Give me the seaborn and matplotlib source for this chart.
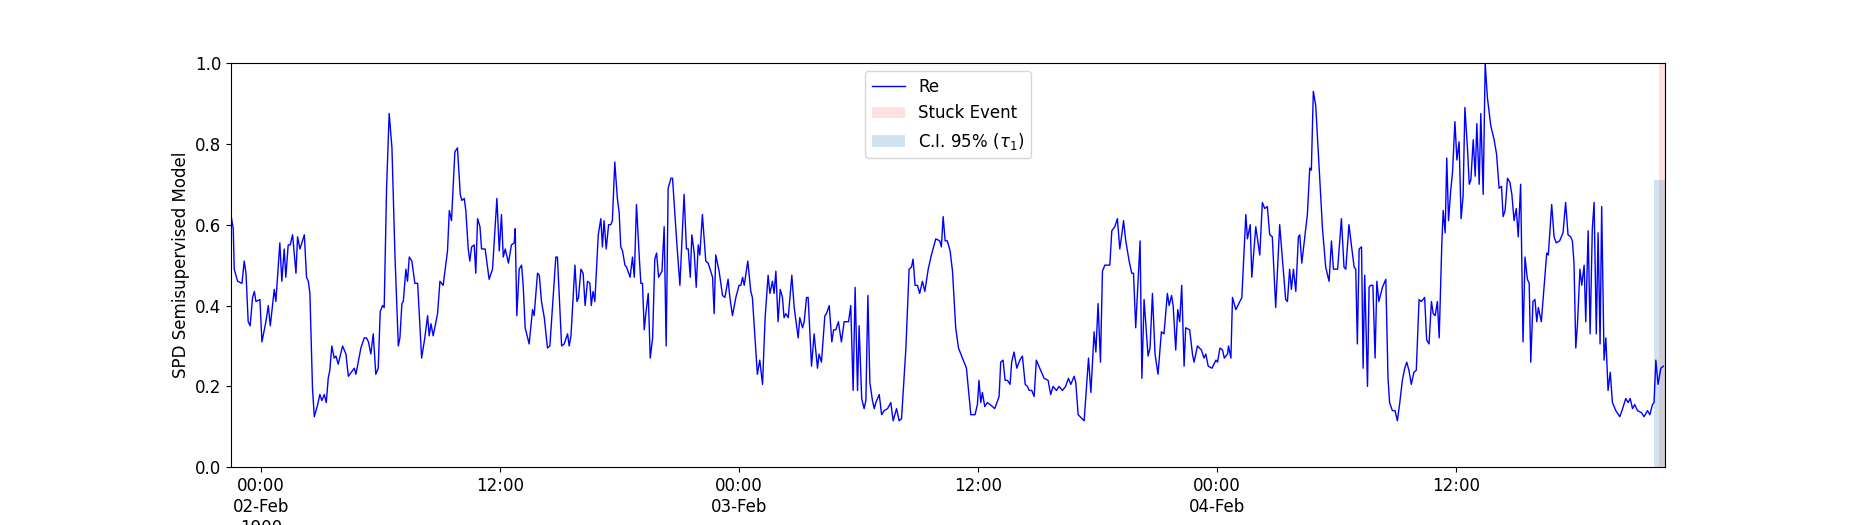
import matplotlib
matplotlib.use("Agg")
import matplotlib.pyplot as plt
import matplotlib.dates as mdates
import seaborn as sns
import pandas as pd

# hours elapsed since the start of the series (1900-02-01 22:30)
hours = [
 0,0.1,0.15,0.32,0.54,0.65,0.74,0.85,0.95,1.07,1.16,1.24,1.44,1.54,1.74,1.86,1.96,2.16,2.24,2.44,
 2.54,2.66,2.74,2.86,2.96,3.08,3.25,3.33,3.45,3.67,3.78,3.87,3.95,4.08,4.17,4.34,4.45,4.55,4.67,4.77,
 4.87,4.95,5.05,5.17,5.26,5.37,5.59,5.76,5.88,6.18,6.26,6.51,6.68,6.79,6.89,7.01,7.13,7.26,7.38,7.48,
 7.6,7.68,7.8,7.93,8.07,8.22,8.39,8.47,8.57,8.64,8.77,8.85,8.94,9.07,9.22,9.36,9.56,9.72,9.86,9.94,
 10.03,10.14,10.36,10.48,10.64,10.86,10.95,11.06,11.23,11.36,11.5,11.58,11.7,11.78,11.9,11.98,12.07,12.2,12.28,12.37,
 12.49,12.57,12.75,12.95,13.12,13.34,13.46,13.57,13.66,13.76,13.92,14.07,14.21,14.26,14.34,14.46,14.58,14.66,14.76,14.96,
 15.13,15.21,15.38,15.47,15.58,15.72,15.88,16.0,16.3,16.38,16.59,16.72,16.89,16.97,17.06,17.26,17.36,17.44,17.56,17.67,
 17.77,17.89,18.01,18.08,18.17,18.26,18.43,18.56,18.64,18.72,18.83,18.95,19.06,19.14,19.26,19.39,19.48,19.56,19.65,19.77,
 19.85,20.03,20.15,20.24,20.35,20.49,20.57,20.65,20.74,20.82,20.94,21.04,21.16,21.27,21.36,21.46,21.63,21.74,21.84,21.94,
 22.08,22.16,22.36,22.53,22.74,22.86,22.95,23.05,23.13,23.25,23.35,23.45,23.53,23.66,23.83,23.95,24.17,24.25,24.33,24.5,
 24.67,24.79,24.95,25.04,25.17,25.34,25.5,25.59,25.68,25.76,25.94,26.09,26.17,26.42,26.54,26.68,26.81,26.96,27.05,27.18,
 27.26,27.35,27.46,27.57,27.68,27.76,27.85,27.97,28.15,28.27,28.47,28.55,28.69,28.77,28.89,28.97,29.14,29.27,29.44,29.52,
 29.64,29.81,29.89,30.03,30.16,30.25,30.36,30.49,30.64,30.78,31.0,31.11,31.23,31.33,31.45,31.53,31.66,31.78,31.87,31.97,
 32.07,32.2,32.29,32.37,32.54,32.66,32.79,32.96,33.12,33.24,33.41,33.54,33.66,33.88,34.04,34.16,34.24,34.34,34.46,34.57,
 34.71,34.83,35.0,35.16,35.38,35.58,35.66,35.75,35.85,35.96,36.1,36.22,36.38,36.52,36.72,36.92,37.14,37.35,37.47,37.55,
 37.64,37.72,37.84,37.97,38.23,38.34,38.56,38.64,38.76,38.86,38.98,39.11,39.19,39.31,39.45,39.6,39.73,39.87,39.98,40.07,
 40.2,40.32,40.43,40.6,40.82,41.02,41.15,41.27,41.44,41.57,41.74,41.9,42.04,42.16,42.33,42.41,42.53,42.83,43.05,43.17,
 43.33,43.42,43.53,43.65,43.75,43.87,44.0,44.12,44.22,44.37,44.5,44.62,44.72,44.81,44.92,45.09,45.22,45.31,45.42,45.64,
 45.73,45.84,46.04,46.14,46.26,46.39,46.54,46.71,46.84,47.01,47.1,47.22,47.3,47.43,47.53,47.63,47.73,47.85,47.93,48.13,
 48.27,48.35,48.52,48.72,48.85,48.94,49.06,49.25,49.45,49.53,49.65,49.78,49.87,50.03,50.08,50.2,50.28,50.45,50.75,50.95,
 51.03,51.17,51.25,51.45,51.65,51.78,51.9,52.03,52.15,52.28,52.45,52.65,52.79,52.95,53.04,53.15,53.24,53.34,53.46,53.59,
 53.66,53.76,54.04,54.16,54.24,54.34,54.46,54.63,54.8,54.96,55.13,55.25,55.35,55.46,55.56,55.75,55.88,55.97,56.13,56.25,
 56.39,56.47,56.55,56.64,56.76,56.84,56.92,57.06,57.14,57.22,57.33,57.44,57.53,57.63,57.81,57.98,58.09,58.17,58.31,58.44,
 58.56,58.67,58.81,58.93,59.03,59.14,59.26,59.39,59.51,59.65,59.76,59.93,60.03,60.15,60.27,60.36,60.46,60.57,60.66,60.79,
 60.86,60.96,61.04,61.13,61.24,61.33,61.45,61.55,61.66,61.76,61.86,61.95,62.08,62.17,62.25,62.37,62.47,62.55,62.67,62.75,
 62.87,62.97,63.08,63.25,63.42,63.54,63.67,63.79,63.87,63.97,64.09,64.21,64.31,64.42,64.53,64.63,64.75,64.87,64.97,65.09,
 65.18,65.26,65.37,65.47,65.56,65.64,65.79,65.93,66.06,66.14,66.31,66.43,66.54,66.71,66.88,67.01,67.13,67.26,67.35,67.43,
 67.52,67.6,67.73,67.82,67.94,68.02,68.14,68.24,68.35,68.44,68.55,68.64,68.74,68.82,68.94,69.03,69.14,69.25,69.36,69.53,
 69.73,69.87,70.03,70.15,70.25,70.37,70.48,70.62,70.82,70.95,71.12,71.24,71.37,71.45,71.54,71.65,71.79,71.92,
]
re_values = [
 0.62,0.59,0.49,0.46,0.455,0.51,0.48,0.36,0.35,0.42,0.435,0.41,0.415,0.31,0.36,0.40,0.35,0.44,0.41,0.555,
 0.46,0.54,0.47,0.55,0.55,0.575,0.48,0.57,0.54,0.575,0.47,0.46,0.43,0.195,0.125,0.155,0.18,0.165,0.18,0.16,
 0.22,0.24,0.30,0.27,0.275,0.255,0.30,0.28,0.225,0.245,0.23,0.295,0.32,0.32,0.31,0.28,0.33,0.23,0.245,0.385,
 0.40,0.395,0.69,0.875,0.79,0.525,0.30,0.32,0.405,0.41,0.49,0.46,0.52,0.51,0.455,0.455,0.27,0.32,0.375,0.325,
 0.355,0.325,0.38,0.46,0.45,0.535,0.635,0.61,0.78,0.79,0.675,0.66,0.665,0.635,0.54,0.51,0.545,0.55,0.48,0.615,
 0.595,0.54,0.54,0.465,0.49,0.665,0.535,0.625,0.52,0.54,0.505,0.55,0.555,0.59,0.375,0.49,0.50,0.45,0.345,0.305,
 0.39,0.375,0.48,0.475,0.41,0.37,0.295,0.30,0.52,0.52,0.30,0.305,0.33,0.30,0.325,0.50,0.41,0.42,0.49,0.48,
 0.40,0.46,0.455,0.40,0.435,0.41,0.575,0.615,0.545,0.61,0.54,0.60,0.60,0.61,0.755,0.665,0.63,0.545,0.535,0.50,
 0.495,0.47,0.52,0.47,0.65,0.52,0.455,0.455,0.34,0.38,0.43,0.27,0.32,0.515,0.53,0.47,0.485,0.595,0.30,0.69,
 0.715,0.715,0.565,0.45,0.675,0.54,0.54,0.47,0.575,0.53,0.445,0.55,0.525,0.625,0.51,0.505,0.47,0.38,0.525,0.485,
 0.425,0.42,0.465,0.42,0.375,0.42,0.45,0.45,0.47,0.45,0.51,0.435,0.42,0.23,0.265,0.205,0.37,0.475,0.43,0.46,
 0.43,0.485,0.36,0.44,0.42,0.37,0.38,0.37,0.475,0.395,0.32,0.37,0.345,0.36,0.42,0.42,0.25,0.33,0.245,0.28,
 0.26,0.375,0.38,0.40,0.31,0.34,0.34,0.36,0.31,0.36,0.36,0.40,0.19,0.445,0.19,0.35,0.17,0.145,0.165,0.425,
 0.21,0.165,0.145,0.16,0.18,0.13,0.14,0.145,0.16,0.115,0.145,0.115,0.12,0.295,0.49,0.495,0.515,0.45,0.45,0.43,
 0.46,0.435,0.49,0.525,0.565,0.56,0.545,0.62,0.56,0.56,0.535,0.485,0.345,0.295,0.27,0.245,0.13,0.13,0.155,0.215,
 0.16,0.185,0.15,0.16,0.15,0.145,0.175,0.26,0.265,0.215,0.215,0.205,0.26,0.285,0.245,0.265,0.275,0.205,0.20,0.19,
 0.19,0.175,0.265,0.245,0.22,0.215,0.18,0.20,0.19,0.20,0.19,0.20,0.22,0.205,0.225,0.21,0.13,0.115,0.27,0.185,
 0.335,0.285,0.405,0.26,0.485,0.50,0.50,0.50,0.585,0.595,0.615,0.54,0.575,0.61,0.56,0.51,0.48,0.48,0.345,0.56,
 0.22,0.415,0.275,0.295,0.43,0.28,0.23,0.335,0.33,0.43,0.40,0.425,0.40,0.29,0.39,0.36,0.45,0.25,0.345,0.34,
 0.28,0.26,0.30,0.29,0.27,0.28,0.25,0.245,0.265,0.26,0.295,0.29,0.27,0.28,0.30,0.27,0.42,0.39,0.42,0.625,
 0.565,0.60,0.47,0.595,0.525,0.655,0.64,0.645,0.575,0.57,0.395,0.60,0.515,0.415,0.41,0.49,0.44,0.49,0.435,0.57,
 0.575,0.505,0.625,0.74,0.735,0.93,0.895,0.74,0.59,0.495,0.46,0.56,0.49,0.49,0.49,0.615,0.495,0.49,0.60,0.55,
 0.495,0.49,0.305,0.54,0.545,0.245,0.475,0.20,0.445,0.45,0.45,0.27,0.46,0.41,0.445,0.465,0.22,0.16,0.14,0.14,
 0.115,0.155,0.215,0.245,0.26,0.24,0.205,0.235,0.24,0.415,0.41,0.42,0.315,0.305,0.41,0.38,0.375,0.41,0.32,0.55,
 0.635,0.58,0.765,0.61,0.685,0.73,0.855,0.76,0.805,0.615,0.67,0.89,0.79,0.70,0.71,0.81,0.72,0.85,0.70,0.875,
 0.675,1.0,0.915,0.845,0.81,0.775,0.69,0.695,0.62,0.635,0.715,0.705,0.675,0.61,0.64,0.57,0.70,0.31,0.52,0.465,
 0.455,0.26,0.41,0.415,0.36,0.395,0.36,0.45,0.53,0.525,0.65,0.57,0.555,0.56,0.58,0.655,0.575,0.57,0.56,0.505,
 0.295,0.35,0.49,0.45,0.50,0.36,0.585,0.33,0.59,0.655,0.33,0.58,0.305,0.645,0.265,0.32,0.19,0.235,0.16,0.14,
 0.125,0.145,0.17,0.16,0.17,0.145,0.155,0.14,0.135,0.125,0.14,0.13,0.155,0.16,0.265,0.205,0.245,0.25,
]
t_start = "1900-02-01 22:30"
t_end = "1900-02-04 22:30"
ci_start_hour = 71.45
stuck_start_hour = 71.7
ci_upper = 0.71

start = pd.Timestamp(t_start)
df = pd.DataFrame({"time": start + pd.to_timedelta(hours, unit="h"), "Re": re_values})

fig, ax = plt.subplots(figsize=(18.5, 5.25), dpi=100)
sns.lineplot(data=df, x="time", y="Re", ax=ax, color="blue", linewidth=1, label="Re")
ax.axvspan(start + pd.Timedelta(hours=stuck_start_hour), pd.Timestamp(t_end), color="red", alpha=0.12, label="Stuck Event", linewidth=0)
ax.fill_between([start + pd.Timedelta(hours=ci_start_hour), pd.Timestamp(t_end)], 0, ci_upper,
                color="tab:blue", alpha=0.2, label=r"C.I. 95% ($\tau_1$)", linewidth=0)
ax.set_xlim(start, pd.Timestamp(t_end))
ax.set_ylim(0, 1)
ax.set_xlabel("")
ax.set_ylabel("SPD Semisupervised Model", fontsize=12)
ax.xaxis.set_major_locator(mdates.HourLocator(byhour=[0, 12]))
def fmt(x, pos):
    d = mdates.num2date(x)
    if d.hour == 0:
        if pos == 0:
            return d.strftime("%H:%M\n%d-%b\n%Y")
        return d.strftime("%H:%M\n%d-%b")
    return d.strftime("%H:%M")
ax.xaxis.set_major_formatter(plt.FuncFormatter(fmt))
ax.tick_params(labelsize=12)
ax.legend(loc="upper center", fontsize=12)
fig.subplots_adjust(left=0.125, right=0.9, top=0.88, bottom=0.11)
fig.savefig("out.png", dpi=100)
